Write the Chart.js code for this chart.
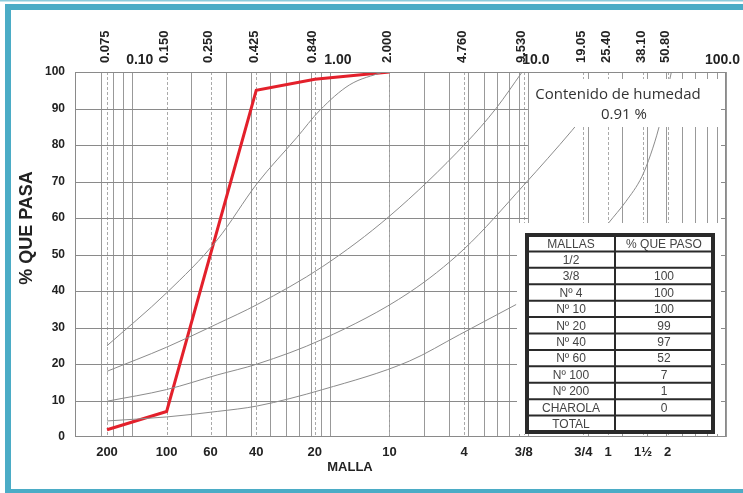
<!DOCTYPE html>
<html lang="es">
<head>
<meta charset="utf-8">
<title>Curva granulométrica</title>
<script src="https://cdn.jsdelivr.net/npm/chart.js@4/dist/chart.umd.min.js"></script>
<style>
    html, body { margin: 0; padding: 0; background: #fff; }
    #wrap { position: relative; width: 743px; height: 493px; }
</style>
</head>
<body>
<div id="wrap"><canvas id="curva"></canvas></div>
<script>
/* ========== DATOS ========== */
// tamices (mm) y su malla
const tamicesMm  = [0.075, 0.150, 0.250, 0.425, 0.840, 2.000, 4.760, 9.530, 19.05, 25.40, 38.10, 50.80];
const tamicesTxt = ['0.075', '0.150', '0.250', '0.425', '0.840', '2.000', '4.760', '9.530', '19.05', '25.40', '38.10', '50.80'];
const mallasTxt  = ['200', '100', '60', '40', '20', '10', '4', '3/8', '3/4', '1', '1½', '2'];
const decadas    = [0.1, 1, 10, 100];
const decadasTxt = ['0.10', '1.00', '10.0', '100.0'];
const lineasLog  = [0.07, 0.08, 0.09, 0.1, 0.2, 0.3, 0.4, 0.5, 0.6, 0.7, 0.8, 0.9, 1,
                    2, 3, 4, 5, 6, 7, 8, 9, 10, 20, 30, 40, 50, 60, 70, 80, 90, 100];
const porcTicks  = [0, 10, 20, 30, 40, 50, 60, 70, 80, 90, 100];

// muestra ensayada
const muestraMm   = [0.075, 0.150, 0.425, 0.840, 2.000];
const muestraPasa = [2, 7, 95, 98, 100];

// curvas de referencia (gris)
const curvaAMm = [0.075, 0.15, 0.27, 0.43, 0.68, 0.89, 1.26, 1.85];
const curvaA   = [25, 39.5, 54, 69.5, 82, 89.5, 96.5, 100];
const curvaBMm = [0.075, 0.15, 0.27, 0.43, 0.92, 2.0, 4.88, 6.9, 9.35];
const curvaB   = [18, 24.6, 31, 36.3, 46.7, 60.5, 80.6, 90, 100];
const curvaCMm = [0.075, 0.15, 0.27, 0.43, 0.92, 2.52, 4.76, 9.53, 16.7, 22.8];
const curvaC   = [9.8, 13, 17, 20, 26.8, 39.6, 51.5, 69, 84, 93];
const curvaDMm = [0.075, 0.15, 0.27, 0.43, 0.92, 2.52, 4.5, 8.72];
const curvaD   = [4.4, 5.5, 7, 8.5, 13, 20.8, 28, 36.3];
const curvaEMm = [18, 25.6, 31.2, 37.6, 41.7, 45.8, 49.7, 53];
const curvaE   = [48, 58.7, 64.5, 71.3, 77.5, 84.7, 93, 100];

// tabla
const tablaMallas = ['1/2', '3/8', 'Nº 4', 'Nº 10', 'Nº 20', 'Nº 40', 'Nº 60', 'Nº 100', 'Nº 200', 'CHAROLA', 'TOTAL'];
const tablaPasa   = ['', '100', '100', '100', '99', '97', '52', '7', '1', '0', ''];
const humedadTxt  = ['Contenido de humedad', '0.91 %'];

function puntos(xs, ys) {
    return xs.map((x, i) => ({ x: x, y: ys[i] }));
}

/* ========== DIBUJO AUXILIAR ========== */
const TEAL = '#4bacc6';
const FUENTE = '"Liberation Sans", Arial, sans-serif';

const marco = {
    id: 'marco',
    beforeDraw(chart) {
        const ctx = chart.ctx;
        ctx.save();
        ctx.fillStyle = '#fff';
        ctx.fillRect(0, 0, chart.width, chart.height);
        ctx.fillStyle = '#8ccbdb';
        ctx.fillRect(0, 0, chart.width, 1.5);
        ctx.fillStyle = TEAL;
        ctx.fillRect(5, 4, chart.width - 5, 6);
        ctx.fillRect(5, 4, 6, chart.height - 4);
        ctx.fillRect(5, chart.height - 4, chart.width - 5, 4);
        ctx.restore();
    },
    beforeDatasetsDraw(chart) {
        const { ctx, chartArea: a, scales: { x, y } } = chart;
        const x10 = x.getPixelForValue(10);
        ctx.save();
        ctx.lineWidth = 1;

        // verticales
        ctx.strokeStyle = '#999';
        lineasLog.forEach(v => {
            const px = Math.round(x.getPixelForValue(v)) + 0.5;
            ctx.beginPath();
            ctx.moveTo(px, a.top);
            ctx.lineTo(px, a.bottom);
            ctx.stroke();
        });
        ctx.strokeStyle = '#aaa';
        ctx.setLineDash([3, 2]);
        tamicesMm.forEach(v => {
            const px = Math.round(x.getPixelForValue(v)) + 0.5;
            ctx.beginPath();
            ctx.moveTo(px, a.top);
            ctx.lineTo(px, a.bottom);
            ctx.stroke();
        });
        ctx.setLineDash([]);

        // horizontales
        ctx.strokeStyle = '#8a8a8a';
        porcTicks.forEach(v => {
            if (v === 0 || v === 100) return;
            const py = Math.round(y.getPixelForValue(v)) + 0.5;
            ctx.beginPath();
            ctx.moveTo(a.left, py);
            ctx.lineTo(x10, py);
            ctx.moveTo(a.right - 5, py);
            ctx.lineTo(a.right, py);
            ctx.stroke();
        });
        ctx.restore();
    },
    afterDatasetsDraw(chart) {
        const { ctx, chartArea: a, scales: { x, y } } = chart;
        ctx.save();

        // tapas blancas (recuadro humedad y tabla)
        ctx.fillStyle = '#fff';
        ctx.fillRect(531, a.top + 7, a.right - 536, 48);
        ctx.fillRect(517, 223, a.right - 522, a.bottom - 226);

        // borde del área
        ctx.strokeStyle = '#8a8a8a';
        ctx.lineWidth = 1;
        ctx.strokeRect(a.left + 0.5, a.top + 0.5, a.right - a.left - 1, a.bottom - a.top - 1);

        // humedad
        ctx.fillStyle = '#333';
        ctx.font = '15px "Open Sans", sans-serif';
        ctx.textAlign = 'center';
        ctx.textBaseline = 'alphabetic';
        ctx.fillText(humedadTxt[0], 618, 99);
        ctx.fillText(humedadTxt[1], 624, 119);

        // tabla
        const tx0 = 527, tx1 = 615, tx2 = 713, ty0 = 235, ty1 = 432;
        const filas = tablaMallas.length + 1;
        const h = (ty1 - ty0) / filas;
        ctx.font = '12px ' + FUENTE;
        ctx.fillStyle = '#444';
        ctx.textBaseline = 'middle';
        ctx.fillText('MALLAS', (tx0 + tx1) / 2, ty0 + h / 2 + 1);
        ctx.fillText('% QUE PASO', (tx1 + tx2) / 2, ty0 + h / 2 + 1);
        tablaMallas.forEach((m, i) => {
            const cy = ty0 + h * (i + 1.5) + 1;
            ctx.fillText(m, (tx0 + tx1) / 2, cy);
            ctx.fillText(tablaPasa[i], (tx1 + tx2) / 2, cy);
        });
        ctx.strokeStyle = '#2a2a2a';
        ctx.lineWidth = 2;
        for (let i = 1; i < filas; i++) {
            const py = ty0 + h * i;
            ctx.beginPath();
            ctx.moveTo(tx0, py);
            ctx.lineTo(tx2, py);
            ctx.stroke();
        }
        ctx.beginPath();
        ctx.moveTo(tx1, ty0);
        ctx.lineTo(tx1, ty1);
        ctx.stroke();
        ctx.lineWidth = 4;
        ctx.strokeRect(tx0, ty0, tx2 - tx0, ty1 - ty0);

        // etiquetas superiores
        ctx.fillStyle = '#222';
        ctx.font = 'bold 13px ' + FUENTE;
        ctx.textAlign = 'left';
        tamicesTxt.forEach((t, i) => {
            const px = x.getPixelForValue(tamicesMm[i]) - 2;
            ctx.save();
            ctx.translate(px, 63);
            ctx.rotate(-Math.PI / 2);
            ctx.textBaseline = 'middle';
            ctx.fillText(t, 0, 0);
            ctx.restore();
        });
        ctx.font = 'bold 14px ' + FUENTE;
        ctx.textAlign = 'center';
        ctx.textBaseline = 'alphabetic';
        decadasTxt.forEach((t, i) => {
            const w = ctx.measureText(t).width;
            const cx = Math.min(x.getPixelForValue(decadas[i]) + 8, 740 - w / 2);
            ctx.fillText(t, cx, 64);
        });

        // etiquetas inferiores
        ctx.font = 'bold 13px ' + FUENTE;
        ctx.textBaseline = 'middle';
        mallasTxt.forEach((t, i) => {
            ctx.fillText(t, x.getPixelForValue(tamicesMm[i]), 452);
        });
        ctx.fillText('MALLA', 350, 467);

        // eje Y
        ctx.font = 'bold 12px ' + FUENTE;
        ctx.textAlign = 'right';
        porcTicks.forEach(v => {
            ctx.fillText(String(v), 65, y.getPixelForValue(v));
        });
        ctx.save();
        ctx.translate(27, 228);
        ctx.rotate(-Math.PI / 2);
        ctx.textAlign = 'center';
        ctx.font = 'bold 18px ' + FUENTE;
        ctx.fillText('% QUE PASA', 0, 0);
        ctx.restore();

        ctx.restore();
    }
};

/* ========== GRÁFICO ========== */
const gris = (xs, ys) => ({
    data: puntos(xs, ys),
    borderColor: '#8c8c8c',
    borderWidth: 1,
    pointRadius: 0,
    cubicInterpolationMode: 'monotone',
    fill: false
});

new Chart(document.getElementById('curva'), {
    type: 'line',
    data: {
        datasets: [
            gris(curvaAMm, curvaA),
            gris(curvaBMm, curvaB),
            gris(curvaCMm, curvaC),
            gris(curvaDMm, curvaD),
            gris(curvaEMm, curvaE),
            {
                data: puntos(muestraMm, muestraPasa),
                borderColor: '#e3202b',
                borderWidth: 3,
                pointRadius: 0,
                tension: 0,
                fill: false
            }
        ]
    },
    options: {
        responsive: true,
        maintainAspectRatio: false,
        animation: false,
        layout: { padding: { left: 75, right: 17, top: 72, bottom: 56 } },
        plugins: { legend: { display: false }, tooltip: { enabled: false } },
        scales: {
            x: { type: 'logarithmic', min: 0.0517, max: 100, display: false },
            y: { type: 'linear', min: 0, max: 100, display: false }
        }
    },
    plugins: [marco]
});
</script>
</body>
</html>
